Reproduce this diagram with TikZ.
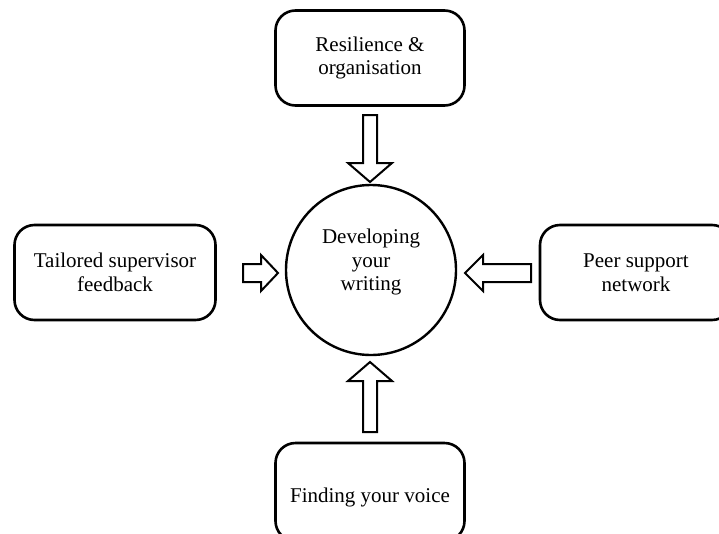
\documentclass[tikz,border=0pt]{standalone}
\usepackage{fontspec}
\setmainfont{Liberation Serif}
\begin{document}
\begin{tikzpicture}[x=1pt,y=-1pt,
  txt/.style={align=center,font=\fontsize{21}{23.5}\selectfont},
  box/.style={txt,draw,line width=2.6pt,rounded corners=20pt,minimum width=189pt,minimum height=95pt},
  hub/.style={draw,circle,line width=2.4pt,minimum size=170pt},
  blk/.style={draw,line width=2pt,fill=white,line join=miter}]
\useasboundingbox (0,0) rectangle (719,533);
\clip (0,0) rectangle (719,533);
\node[box] (top) at (370,58) {Resilience \&\\organisation};
\node[box,minimum width=201pt] (left) at (115,272.5) {Tailored supervisor\\feedback};
\node[box,minimum width=192pt] (right) at (636,272.5) {Peer support\\network};
\node[box,minimum height=98pt] (bot) at (370,492) {};
\node[txt] (bottxt) at (370,497) {Finding your voice};
\node[hub] (hub) at (371,270) {};
\node[txt] (hubtxt) at (371,262) {Developing\\your\\writing};
% down arrow
\draw[blk] (363,115) -- (377,115) -- (377,163) -- (392,163) -- (370,182) -- (348,163) -- (363,163) -- cycle;
% up arrow
\draw[blk] (363,432) -- (377,432) -- (377,381) -- (392,381) -- (370,362) -- (348,381) -- (363,381) -- cycle;
% right-pointing arrow (from left box)
\draw[blk] (243,264) -- (261,264) -- (261,255) -- (278,273) -- (261,291) -- (261,282) -- (243,282) -- cycle;
% left-pointing arrow (from right box)
\draw[blk] (531,264) -- (483,264) -- (483,255) -- (465,273) -- (483,291) -- (483,282) -- (531,282) -- cycle;
\end{tikzpicture}
\end{document}
